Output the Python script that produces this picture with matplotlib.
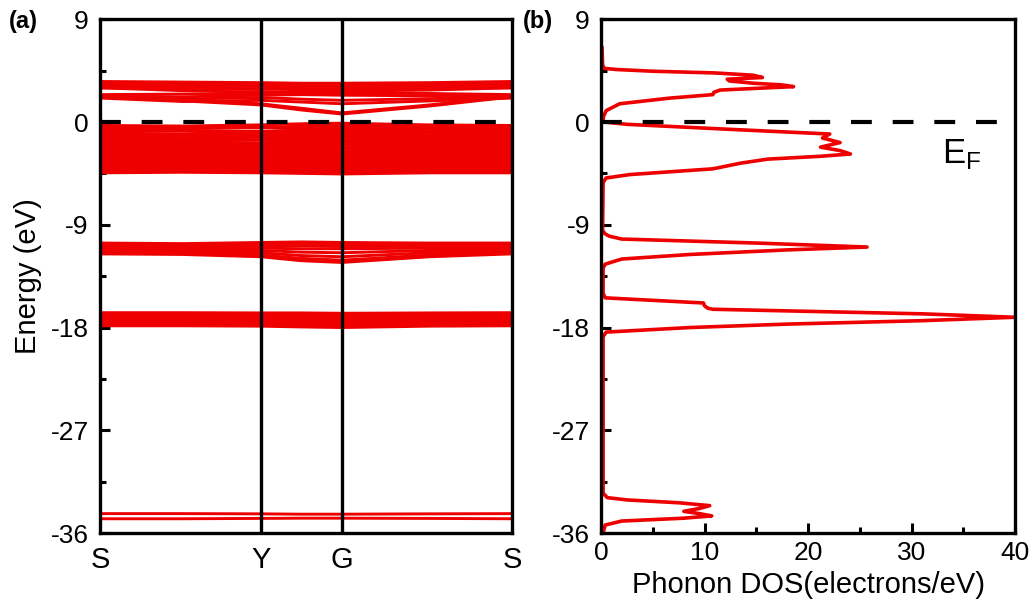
import numpy as np
import matplotlib
matplotlib.use("Agg")
import matplotlib.pyplot as plt
from matplotlib.ticker import MultipleLocator

plt.rcParams['font.family'] = ['Liberation Sans', 'DejaVu Sans']
plt.rcParams['axes.unicode_minus'] = False

# ---------------- data ----------------
# k-path: S -> Y -> G -> S
k_labels = ['S', 'Y', 'G', 'S']
k_ticks = [0.0, 0.39, 0.587, 1.0]
# sampled k positions along the path (S, S-Y mid, Y, Y-G mid, G, G-S mid, S)
k_nodes = [0.0, 0.20, 0.39, 0.49, 0.587, 0.80, 1.0]

conduction_bands = [
    [3.55, 3.50, 3.45, 3.40, 3.40, 3.45, 3.55],
    [3.40, 3.40, 3.35, 3.30, 3.30, 3.35, 3.40],
    [3.25, 3.25, 3.20, 3.20, 3.15, 3.20, 3.25],
    [3.10, 3.10, 3.05, 3.05, 3.00, 3.05, 3.10],
    [3.00, 2.90, 2.85, 2.90, 2.85, 2.95, 3.00],
    [3.00, 2.75, 2.60, 2.70, 2.70, 2.80, 3.00],
    [2.40, 2.45, 2.50, 2.55, 2.55, 2.50, 2.40],
    [2.30, 2.20, 2.35, 2.40, 2.35, 2.30, 2.30],
    [2.20, 2.00, 2.15, 2.00, 1.90, 2.05, 2.20],
    [2.10, 1.80, 1.90, 1.75, 1.60, 1.85, 2.10],
    [2.35, 1.95, 1.60, 1.20, 0.80, 1.50, 2.30],
    [2.25, 1.85, 1.50, 1.05, 0.70, 1.40, 2.20],
]

valence_bands = [
    [-0.30, -0.35, -0.25, -0.15, -0.10, -0.25, -0.30],
    [-0.45, -0.40, -0.50, -0.35, -0.30, -0.40, -0.45],
    [-0.55, -0.60, -0.45, -0.55, -0.50, -0.55, -0.60],
    [-0.70, -0.75, -0.80, -0.70, -0.65, -0.75, -0.70],
    [-0.85, -0.80, -0.95, -0.90, -0.85, -0.85, -0.90],
    [-1.00, -1.05, -1.00, -1.10, -1.05, -1.00, -1.05],
    [-1.15, -1.20, -1.25, -1.20, -1.25, -1.20, -1.15],
    [-1.30, -1.25, -1.35, -1.40, -1.35, -1.35, -1.30],
    [-1.45, -1.45, -1.55, -1.50, -1.55, -1.50, -1.50],
    [-1.60, -1.65, -1.60, -1.70, -1.65, -1.65, -1.60],
    [-1.75, -1.80, -1.85, -1.80, -1.85, -1.80, -1.75],
    [-1.90, -1.90, -1.95, -2.00, -1.95, -1.95, -1.95],
    [-2.05, -2.10, -2.10, -2.10, -2.15, -2.10, -2.05],
    [-2.20, -2.20, -2.30, -2.25, -2.25, -2.25, -2.20],
    [-2.35, -2.35, -2.40, -2.45, -2.40, -2.35, -2.40],
    [-2.50, -2.55, -2.55, -2.55, -2.60, -2.50, -2.55],
    [-2.65, -2.70, -2.70, -2.70, -2.70, -2.65, -2.65],
    [-2.80, -2.80, -2.85, -2.90, -2.85, -2.80, -2.80],
    [-2.95, -2.95, -3.00, -3.00, -3.00, -2.95, -2.95],
    [-3.10, -3.10, -3.15, -3.15, -3.15, -3.10, -3.10],
    [-3.25, -3.20, -3.30, -3.30, -3.30, -3.25, -3.25],
    [-3.40, -3.35, -3.45, -3.45, -3.45, -3.40, -3.40],
    [-3.55, -3.50, -3.55, -3.60, -3.60, -3.55, -3.55],
    [-3.70, -3.65, -3.70, -3.75, -3.75, -3.70, -3.70],
    [-3.85, -3.80, -3.85, -3.90, -3.90, -3.85, -3.85],
    [-4.00, -3.95, -4.00, -4.05, -4.05, -4.00, -4.00],
    [-4.15, -4.10, -4.15, -4.20, -4.20, -4.15, -4.15],
    [-4.30, -4.30, -4.30, -4.35, -4.40, -4.30, -4.30],
    [-4.45, -4.40, -4.45, -4.50, -4.55, -4.45, -4.45],
]

mid_bands = [
    [-10.60, -10.65, -10.55, -10.50, -10.55, -10.60, -10.60],
    [-10.75, -10.80, -10.70, -10.65, -10.70, -10.75, -10.75],
    [-10.90, -10.95, -10.90, -10.85, -10.90, -10.90, -10.90],
    [-11.05, -11.05, -11.05, -11.10, -11.10, -11.05, -11.05],
    [-11.20, -11.20, -11.25, -11.40, -11.45, -11.25, -11.20],
    [-11.35, -11.35, -11.45, -11.70, -11.80, -11.45, -11.35],
    [-11.45, -11.50, -11.65, -11.95, -12.10, -11.65, -11.45],
    [-11.55, -11.60, -11.80, -12.15, -12.30, -11.80, -11.55],
]

deep_bands = [
    [-16.70, -16.70, -16.72, -16.72, -16.75, -16.72, -16.70],
    [-16.85, -16.85, -16.88, -16.90, -16.90, -16.88, -16.85],
    [-17.00, -17.00, -17.02, -17.05, -17.05, -17.02, -17.00],
    [-17.15, -17.15, -17.18, -17.20, -17.22, -17.18, -17.15],
    [-17.30, -17.30, -17.35, -17.38, -17.40, -17.35, -17.30],
    [-17.45, -17.45, -17.50, -17.55, -17.58, -17.50, -17.45],
    [-17.60, -17.60, -17.65, -17.70, -17.75, -17.65, -17.60],
    [-17.75, -17.75, -17.80, -17.85, -17.90, -17.80, -17.75],
    [-17.85, -17.85, -17.88, -17.95, -18.00, -17.88, -17.85],
]

core_bands = [
    [-34.30, -34.30, -34.32, -34.35, -34.35, -34.32, -34.30],
    [-34.75, -34.75, -34.72, -34.70, -34.70, -34.72, -34.75],
]

# density of states (energy in eV, DOS in electrons/eV)
dos_energy = [6.5, 5.0, 4.7, 4.6, 4.45, 4.3, 4.1, 3.9, 3.75, 3.6, 3.4, 3.25, 3.1, 2.95,
              2.8, 2.6, 2.4, 2.1, 1.6, 1.0, 0.5, 0.2, 0.0, -0.2, -0.6, -1.05, -1.4,
              -1.8, -2.2, -2.5, -2.8, -3.0, -3.25, -3.6, -4.1, -4.6, -4.9, -5.3,
              -9.5, -9.8, -10.0, -10.25, -10.6, -10.95, -11.2, -11.6, -12.0, -12.45,
              -12.8, -15.0, -15.4, -15.85, -16.1, -16.3, -16.4, -16.8, -17.1, -17.4,
              -17.7, -18.0, -18.4, -18.8, -32.5, -32.9, -33.1, -33.35, -33.6, -33.85,
              -34.1, -34.3, -34.5, -34.7, -34.95, -35.3, -36.0]
dos_value = [0.1, 0.15, 0.3, 1.5, 5.0, 11.0, 14.7, 15.6, 12.2, 12.4, 14.7, 17.5, 18.6, 15.0,
             11.5, 10.9, 10.8, 6.7, 1.8, 0.5, 0.25, 0.2, 0.3, 2.5, 11.5, 22.1, 21.4,
             23.1, 21.2, 23.1, 24.1, 21.2, 16.1, 13.5, 10.8, 2.8, 0.5, 0.2,
             0.15, 0.4, 0.8, 2.0, 15.0, 25.7, 18.0, 8.6, 2.0, 0.4,
             0.2, 0.2, 0.4, 9.9, 10.0, 10.3, 10.8, 31.0, 40.0, 31.0,
             18.0, 8.6, 0.5, 0.2, 0.2, 0.6, 2.5, 7.5, 10.5, 9.5,
             8.0, 9.5, 10.7, 8.0, 2.0, 0.4, 0.2]

# ---------------- styling ----------------
red = '#ee0000'
band_lw = 2.1
tick_fs = 19
label_fs = 21

fig = plt.figure(figsize=(10.35, 6.16), dpi=100)
ax1 = fig.add_axes([0.0966, 0.1347, 0.398, 0.834])
ax2 = fig.add_axes([0.5807, 0.1347, 0.400, 0.834])

for group in (conduction_bands, valence_bands, mid_bands, deep_bands, core_bands):
    for band in group:
        ax1.plot(k_nodes, band, color=red, lw=band_lw, solid_capstyle='butt')

for kx in k_ticks[1:3]:
    ax1.axvline(kx, color='black', lw=2.4, zorder=5)
ax1.axhline(0, color='black', lw=3.0, dashes=(5, 5), zorder=6)

ax1.set_xlim(0, 1)
ax1.set_ylim(-36, 9)
ax1.set_xticks(k_ticks)
ax1.set_xticklabels(k_labels, fontsize=label_fs)
ax1.tick_params(axis='x', length=0, pad=9)
ax1.set_ylabel('Energy (eV)', fontsize=label_fs, labelpad=6)

ax2.plot(dos_value, dos_energy, color=red, lw=2.6, solid_joinstyle='round')
ax2.axhline(0, color='black', lw=3.0, dashes=(5, 5), zorder=6)
ax2.set_xlim(0, 40)
ax2.set_ylim(-36, 9)
ax2.xaxis.set_major_locator(MultipleLocator(10))
ax2.xaxis.set_minor_locator(MultipleLocator(5))
ax2.set_xlabel('Phonon DOS(electrons/eV)', fontsize=label_fs, labelpad=4)
ax2.tick_params(axis='x', which='major', direction='in', length=7, width=2.2,
                labelsize=tick_fs, pad=6, top=False)
ax2.tick_params(axis='x', which='minor', direction='in', length=4, width=2.2, top=False)
ax2.text(32.9, -3.6, r'E$_\mathregular{F}$', fontsize=25, ha='left', va='baseline')

for ax in (ax1, ax2):
    ax.yaxis.set_major_locator(MultipleLocator(9))
    ax.yaxis.set_minor_locator(MultipleLocator(4.5))
    ax.tick_params(axis='y', which='major', direction='in', length=7, width=2.2,
                   labelsize=tick_fs, pad=8, right=False)
    ax.tick_params(axis='y', which='minor', direction='in', length=4, width=2.2, right=False)
    for s in ax.spines.values():
        s.set_linewidth(2.4)

fig.text(0.009, 0.965, '(a)', fontsize=17, fontweight='bold', va='center', ha='left')
fig.text(0.505, 0.965, '(b)', fontsize=17, fontweight='bold', va='center', ha='left')

fig.savefig('out.png', dpi=100)
